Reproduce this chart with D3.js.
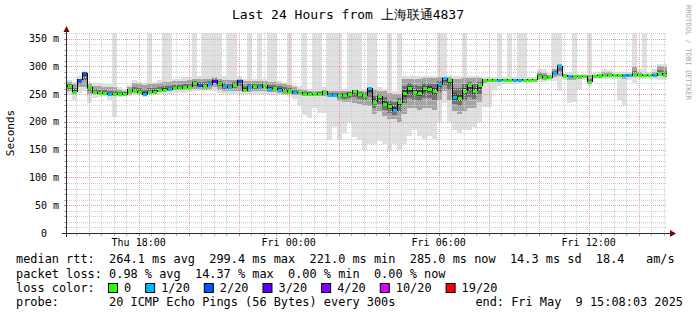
<!DOCTYPE html>
<html lang="en">
<head>
<meta charset="UTF-8">
<title>Last 24 Hours from 上海联通4837</title>
<script src="https://d3js.org/d3.v7.min.js"></script>
<style>
  body { margin: 0; background: #fff; }
  svg { display: block; }
  text { font-family: "DejaVu Sans Mono", monospace; fill: #000; white-space: pre; }
</style>
</head>
<body>
<svg width="697" height="315"></svg>
<script>
// one slot = 12 minutes, 120 slots = 24 hours (Thu 15:08 -> Fri 15:08)
// median rtt per slot (ms)
const median = [
  265,254,276,288,262,253,252,252,250,250,
  250,250,258,255,253,250,253,254,257,258,
  259,261,261,262,263,270,266,264,268,274,
  270,264,262,266,274,257,262,264,262,266,
  260,261,258,256,255,253,253,251,250,250,
  250,254,249,249,249,248,251,256,250,248,
  261,236,246,233,228,221,235,252,261,254,
  252,261,260,256,268,279,276,245,243,256,
  266,256,266,276,276,276,276,276,276,276,
  276,276,276,276,282,280,280,288,300,283,
  282,282,282,282,272,283,283,284,284,284,
  284,284,284,286,284,284,284,284,288,285
];
// lost pings out of 20
const loss = [
  0,0,2,2,0,0,0,0,1,0,
  0,0,0,0,0,1,0,0,0,0,
  1,0,0,0,0,0,2,0,1,3,
  0,1,1,0,2,0,1,0,1,0,
  1,0,1,0,0,1,0,0,0,0,
  0,0,1,1,0,0,0,0,0,0,
  1,0,0,0,0,1,0,0,0,0,
  0,0,0,0,1,1,0,1,0,0,
  0,0,0,0,0,0,1,0,0,1,
  1,0,0,0,0,0,0,1,1,0,
  1,0,0,0,0,0,0,0,0,0,
  0,1,1,0,0,0,0,1,0,0
];
// smoke: fastest ping, lower quartile, upper quartile, slowest ping (ms)
const minPing = [
  250,240,252,255,234,243,245,246,240,209,
  245,246,246,248,248,245,250,248,250,250,
  250,252,252,252,253,255,255,255,255,255,
  252,250,250,250,250,250,250,250,250,250,
  248,248,248,248,245,242,228,212,207,225,
  216,216,167,190,167,180,200,173,167,150,
  160,160,165,160,150,160,150,160,175,185,
  175,170,175,170,200,234,200,185,180,185,
  185,190,200,227,227,257,265,268,268,268,
  270,270,272,272,272,272,274,274,255,276,
  234,236,260,275,265,278,278,278,278,278,
  240,230,275,270,278,278,278,278,276,276
];
const q1Ping = [
  255,250,262,262,250,250,250,250,248,247,
  248,248,250,252,251,249,251,252,254,255,
  255,257,257,258,258,260,260,258,260,262,
  258,255,255,255,256,253,254,255,255,256,
  253,253,252,251,250,249,248,246,246,247,
  246,247,245,244,238,236,236,234,232,230,
  228,215,220,210,205,205,200,215,225,225,
  222,225,225,222,240,255,240,220,215,220,
  225,225,235,270,272,272,272,273,273,273,
  273,273,274,274,277,276,277,280,282,280,
  275,276,278,280,270,281,281,281,281,282,
  280,278,281,281,282,282,282,282,282,282
];
const q3Ping = [
  272,268,278,290,268,265,264,262,262,262,
  258,256,262,270,268,266,268,268,270,272,
  272,273,273,274,275,278,278,278,278,280,
  278,276,276,276,278,274,274,274,274,274,
  272,272,270,268,266,262,260,258,256,255,
  256,258,256,255,256,256,256,258,256,256,
  262,258,256,256,252,250,250,278,278,278,
  278,279,279,279,280,281,280,278,278,279,
  279,279,279,278,278,278,278,278,278,278,
  278,278,278,278,290,288,284,295,304,286,
  285,285,284,284,284,285,286,290,290,287,
  287,287,287,298,290,287,287,290,300,298
];
const maxPing = [
  275,272,282,292,272,270,270,268,268,400,
  262,260,266,275,272,270,400,272,275,400,
  400,278,278,280,280,400,282,400,400,400,
  400,282,400,400,282,278,400,278,400,278,
  400,400,274,272,400,266,264,400,260,400,
  400,262,400,400,400,260,400,400,400,260,
  400,400,262,260,400,255,400,282,282,282,
  282,283,283,283,400,400,284,282,282,400,
  283,283,283,280,280,280,400,280,400,280,
  400,400,280,280,295,295,288,400,400,288,
  290,400,286,286,400,288,290,295,294,290,
  290,290,290,400,295,400,290,295,305,305
];

const yTicks = [0, 50, 100, 150, 200, 250, 300, 350];
const lossSteps = [0, 1, 2, 3, 4, 10, 19];
const lossLabels = ["0", "1/20", "2/20", "3/20", "4/20", "10/20", "19/20"];
const lossColors = ["#26ff00", "#00b8ff", "#0059ff", "#5e00ff", "#7e00ff", "#dd00ff", "#ff0000"];

const statLines = [
  "median rtt:  264.1 ms avg  299.4 ms max  221.0 ms min  285.0 ms now  14.3 ms sd  18.4   am/s",
  "packet loss: 0.98 % avg  14.37 % max  0.00 % min  0.00 % now"
];
const probeText = "probe:       20 ICMP Echo Pings (56 Bytes) every 300s";
const endText = "end: Fri May  9 15:08:03 2025";

const svg = d3.select("svg");
const pLeft = 67, pRight = 667, pTop = 33, pBottom = 233;
const start = new Date(2025, 4, 8, 15, 8, 3);
const end = new Date(2025, 4, 9, 15, 8, 3);
const step = 12 * 60 * 1000;

const x = d3.scaleTime().domain([start, end]).range([pLeft, pRight]);
const y = d3.scaleLinear().domain([0, 360]).range([pBottom, pTop]);

const slots = median.map((m, i) => ({
  t0: new Date(+start + i * step),
  t1: new Date(+start + (i + 1) * step),
  med: m, loss: loss[i],
  lo: minPing[i], q1: q1Ping[i], q3: q3Ping[i], hi: maxPing[i]
}));

svg.append("rect").attr("width", 697).attr("height", 315).attr("fill", "#fff");

svg.append("clipPath").attr("id", "plot")
  .append("rect").attr("x", pLeft).attr("y", pTop)
  .attr("width", pRight - pLeft).attr("height", pBottom - pTop);

// smoke, lightest first
const layers = [
  { c: "#e0e0e0", a: d => d.lo, b: d => d.hi },
  { c: "#a4a4a4", a: d => d.q1, b: d => d.q3 },
  { c: "#717171", a: d => d.q1 + (d.med - d.q1) * 0.5, b: d => d.q3 - (d.q3 - d.med) * 0.5 },
  { c: "#3e3e3e", a: d => d.q1 + (d.med - d.q1) * 0.8, b: d => d.q3 - (d.q3 - d.med) * 0.8 }
];
const smoke = svg.append("g").attr("clip-path", "url(#plot)").attr("shape-rendering", "crispEdges");
layers.forEach(l => {
  smoke.append("g").selectAll("rect")
    .data(slots)
    .enter().append("rect")
    .attr("x", d => x(d.t0))
    .attr("width", d => x(d.t1) - x(d.t0))
    .attr("y", d => y(l.b(d)))
    .attr("height", d => Math.max(0, y(l.a(d)) - y(l.b(d))))
    .attr("fill", l.c);
});

// grid
const grid = svg.append("g").attr("shape-rendering", "crispEdges").attr("stroke-dasharray", "1,1");
const hMinor = d3.range(10, 361, 10).filter(v => v % 50 !== 0);
const hMajor = d3.range(50, 351, 50);
const vMinor = d3.timeMinute.every(30).range(start, end).filter(t => t.getMinutes() !== 0 || t.getHours() % 2 !== 0);
const vMajor = d3.timeHour.every(2).range(start, end);

grid.selectAll(".hmin").data(hMinor).enter().append("line")
  .attr("x1", pLeft).attr("x2", pRight)
  .attr("y1", d => Math.round(y(d)) + 0.5).attr("y2", d => Math.round(y(d)) + 0.5)
  .attr("stroke", "#cfcfcf");
grid.selectAll(".vmin").data(vMinor).enter().append("line")
  .attr("y1", pTop).attr("y2", pBottom)
  .attr("x1", d => Math.round(x(d)) + 0.5).attr("x2", d => Math.round(x(d)) + 0.5)
  .attr("stroke", "#cfcfcf");
grid.selectAll(".hmaj").data(hMajor).enter().append("line")
  .attr("x1", pLeft).attr("x2", pRight)
  .attr("y1", d => Math.round(y(d)) + 0.5).attr("y2", d => Math.round(y(d)) + 0.5)
  .attr("stroke", "#e2a0a0");
grid.selectAll(".vmaj").data(vMajor).enter().append("line")
  .attr("y1", pTop).attr("y2", pBottom)
  .attr("x1", d => Math.round(x(d)) + 0.5).attr("x2", d => Math.round(x(d)) + 0.5)
  .attr("stroke", "#e2a0a0");

// ticks under the x axis and left of the y axis
const ticks = svg.append("g").attr("shape-rendering", "crispEdges");
ticks.selectAll(".xt").data(vMinor.concat(vMajor)).enter().append("line")
  .attr("x1", d => Math.round(x(d)) + 0.5).attr("x2", d => Math.round(x(d)) + 0.5)
  .attr("y1", pBottom).attr("y2", pBottom + 3)
  .attr("stroke", d => vMajor.includes(d) ? "#d07070" : "#b0b0b0");
ticks.selectAll(".yt").data(hMinor.concat(hMajor)).enter().append("line")
  .attr("y1", d => Math.round(y(d)) + 0.5).attr("y2", d => Math.round(y(d)) + 0.5)
  .attr("x1", pLeft - 3).attr("x2", pLeft)
  .attr("stroke", d => d % 50 === 0 ? "#d07070" : "#b0b0b0");

// median line
const plot = svg.append("g").attr("clip-path", "url(#plot)");
const medLine = d3.line()
  .x(d => x(d.t))
  .y(d => y(d.v))
  .curve(d3.curveStepAfter);
const medPts = slots.map(d => ({ t: d.t0, v: d.med }))
  .concat([{ t: end, v: median[median.length - 1] }]);
plot.append("path")
  .attr("d", medLine(medPts))
  .attr("fill", "none")
  .attr("stroke", "#000")
  .attr("stroke-width", 1)
  .attr("shape-rendering", "crispEdges");

function lossColor(n) {
  let c = lossColors[0];
  lossSteps.forEach((s, i) => { if (n >= s) c = lossColors[i]; });
  return c;
}
plot.append("g").attr("shape-rendering", "crispEdges")
  .selectAll("rect").data(slots).enter().append("rect")
  .attr("x", d => x(d.t0) + 1)
  .attr("width", d => x(d.t1) - x(d.t0) - 1)
  .attr("y", d => Math.round(y(d.med)) - 1)
  .attr("height", 3)
  .attr("fill", d => lossColor(d.loss));

// axes
const axisColor = "#2c2c2c";
svg.append("line").attr("x1", 62).attr("x2", 670).attr("y1", pBottom + 0.5).attr("y2", pBottom + 0.5)
  .attr("stroke", axisColor).attr("shape-rendering", "crispEdges");
svg.append("line").attr("x1", pLeft - 0.5).attr("x2", pLeft - 0.5).attr("y1", 237).attr("y2", 31)
  .attr("stroke", axisColor).attr("shape-rendering", "crispEdges");
svg.append("path").attr("d", "M670,230L676,233.5L670,237Z").attr("fill", "#7f0000");
svg.append("path").attr("d", "M63.5,32L66.5,26L69.5,32Z").attr("fill", "#7f0000");

// y tick labels
svg.append("g").selectAll("text").data(yTicks).enter().append("text")
  .attr("x", d => d === 0 ? 59 - 12 : 59)
  .attr("y", d => y(d) + 3.5)
  .attr("text-anchor", "end")
  .attr("font-size", "10px")
  .text(d => d === 0 ? "0" : d + " m");

// x tick labels
const fmt = d3.timeFormat("%a %H:%M");
svg.append("g").selectAll("text").data(d3.timeHour.every(6).range(start, end)).enter().append("text")
  .attr("x", d => x(d))
  .attr("y", 246)
  .attr("text-anchor", "middle")
  .attr("font-size", "10px")
  .text(d => fmt(d));

// title and side texts
svg.append("text").attr("x", 348).attr("y", 19).attr("text-anchor", "middle")
  .attr("font-size", "13px").text("Last 24 Hours from 上海联通4837");
svg.append("text").attr("transform", "translate(14,133) rotate(-90)")
  .attr("text-anchor", "middle").attr("font-size", "11px").text("Seconds");
svg.append("text").attr("transform", "translate(686,5) rotate(90)")
  .attr("font-size", "7.2px").style("fill", "#aaaaaa").text("RRDTOOL / TOBI OETIKER");

// legend
const lx = 16, fs = 11.9, cw = fs * 0.602;
svg.append("g").selectAll("text").data(statLines).enter().append("text")
  .attr("x", lx).attr("y", (d, i) => 263 + i * 15)
  .attr("font-size", fs + "px").text(d => d);

svg.append("text").attr("x", lx).attr("y", 292).attr("font-size", fs + "px").text("loss color:");
let bx = 108;
lossLabels.forEach((lab, i) => {
  svg.append("rect").attr("x", bx + 0.5).attr("y", 283.5).attr("width", 9).attr("height", 9)
    .attr("fill", lossColors[i]).attr("stroke", "#000");
  svg.append("text").attr("x", bx + 16).attr("y", 292).attr("font-size", fs + "px").text(lab);
  bx = bx + 16 + lab.length * cw + 14;
});

svg.append("text").attr("x", lx).attr("y", 306).attr("font-size", fs + "px").text(probeText);
svg.append("text").attr("x", 683).attr("y", 306).attr("text-anchor", "end")
  .attr("font-size", fs + "px").text(endText);
</script>
</body>
</html>
